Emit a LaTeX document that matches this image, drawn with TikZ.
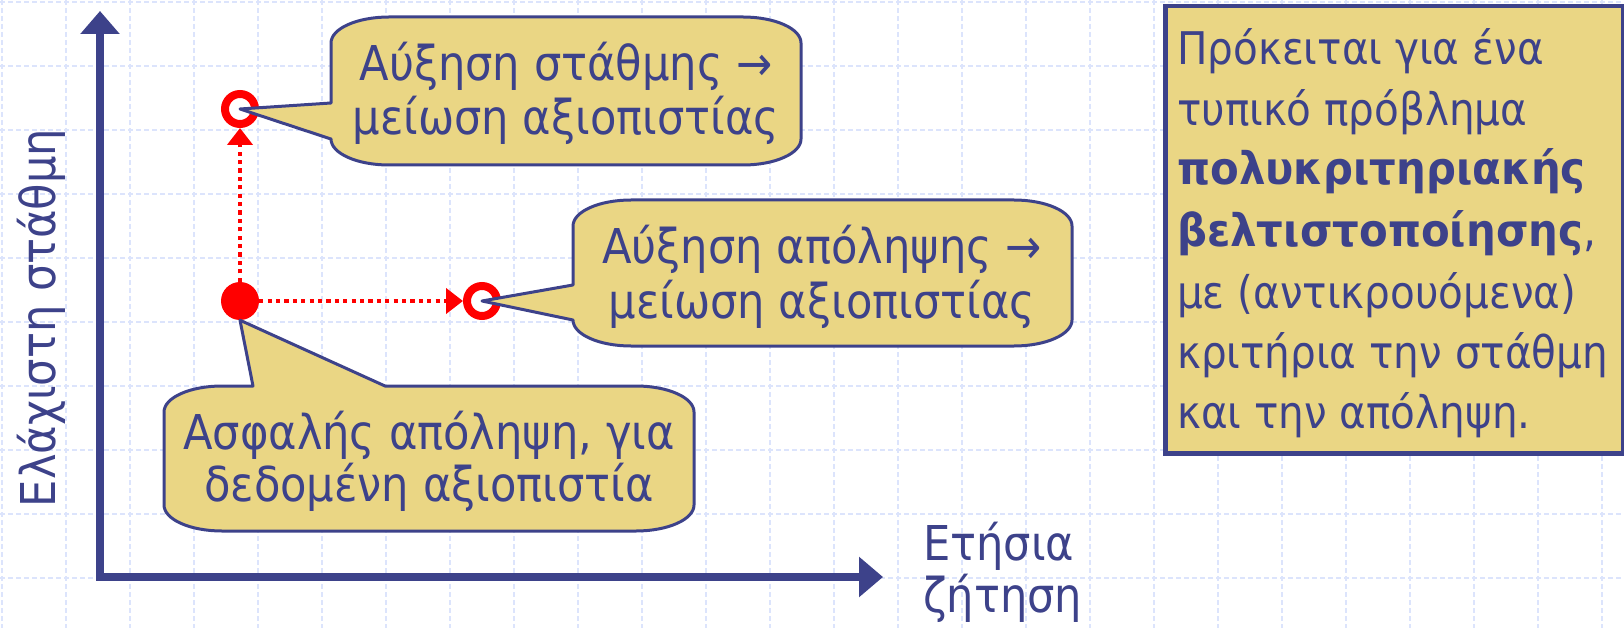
\documentclass[tikz,border=0pt]{standalone}
\usepackage{fontspec}
\setmainfont{DejaVu Sans}[FakeStretch=0.9, BoldFeatures={FakeStretch=0.93}]
\usetikzlibrary{arrows.meta}
\definecolor{ink}{RGB}{61,66,138}
\definecolor{note}{RGB}{234,214,132}
\definecolor{gridc}{RGB}{220,228,252}
\begin{document}
\begin{tikzpicture}[x=1pt,y=-1pt,
  txt/.style={text=ink, inner sep=0pt, font=\fontsize{48}{54}\selectfont},
  boxtxt/.style={text=ink, inner sep=0pt, font=\fontsize{45}{54}\selectfont},
  bubble/.style={draw=ink, fill=note, line width=3pt, line join=round},
  dotarrow/.style={red, line width=4.2pt, dash pattern=on 4.2pt off 4.2pt, -{Triangle[length=17pt,width=25pt]}},
  axisline/.style={ink, line width=8pt, line join=miter, {Triangle[length=23pt,width=38pt]}-{Triangle[length=24pt,width=39pt]}},
  gridline/.style={gridc, line width=1.3pt, dash pattern=on 5pt off 3pt},
  ring/.style={circle, draw=red, line width=8pt, minimum size=30pt, inner sep=0pt},
]
\useasboundingbox (0,0) rectangle (1624,628);
% grid
\foreach \i in {0,...,25} \draw[gridline] (2+64*\i,0) -- (2+64*\i,628);
\foreach \j in {0,...,9} \draw[gridline] (0,2+64*\j) -- (1624,2+64*\j);
% axes
\coordinate (ytop) at (100,11);
\coordinate (orig) at (100,577);
\coordinate (xend) at (883,577);
\draw[axisline] (ytop) -- (orig) -- (xend);
\node[txt, rotate=90, anchor=base] (ylab) at (55,318) {Ελάχιστη στάθμη};
\node[txt, anchor=base west] (xlab1) at (923,560) {Ετήσια};
\node[txt, anchor=base west] (xlab2) at (923,612) {ζήτηση};
% points
\node[circle, fill=red, minimum size=38pt, inner sep=0pt] (p0) at (240,301) {};
\node[ring] (p1) at (240,109) {};
\node[ring] (p2) at (482,301) {};
\draw[dotarrow] (p0) -- (p1);
\draw[dotarrow] (p0) -- (p2);
% top callout
\draw[bubble] (389,17) -- (743,17) .. controls (775,17) and (801,28.6) .. (801,43)
  -- (801,139) .. controls (801,153.4) and (775,165) .. (743,165)
  -- (389,165) .. controls (357,165) and (331,153.4) .. (331,139)
  -- (p1.center) -- (331,103) -- (331,43) .. controls (331,28.6) and (357,17) .. (389,17) -- cycle;
\node[txt, anchor=base] (t1a) at (566,81) {Αύξηση στάθμης →};
\node[txt, anchor=base] (t1b) at (566,135) {μείωση αξιοπιστίας};
% middle callout
\draw[bubble] (631,200) -- (1014,200) .. controls (1046,200) and (1072,211.6) .. (1072,226)
  -- (1072,320) .. controls (1072,334.4) and (1046,346) .. (1014,346)
  -- (631,346) .. controls (599,346) and (573,334.4) .. (573,320)
  -- (p2.center) -- (573,285) -- (573,226) .. controls (573,211.6) and (599,200) .. (631,200) -- cycle;
\node[txt, anchor=base] (t2a) at (822,264) {Αύξηση απόληψης →};
\node[txt, anchor=base] (t2b) at (822,318) {μείωση αξιοπιστίας};
% bottom callout
\draw[bubble] (222,386) -- (253,386) -- (p0.south) -- (385,386) -- (636,386)
  .. controls (668,386) and (694,397.6) .. (694,412)
  -- (694,505) .. controls (694,519.4) and (668,531) .. (636,531)
  -- (222,531) .. controls (190,531) and (164,519.4) .. (164,505)
  -- (164,412) .. controls (164,397.6) and (190,386) .. (222,386) -- cycle;
\node[txt, anchor=base] (t3a) at (429,449) {Ασφαλής απόληψη, για};
\node[txt, anchor=base] (t3b) at (429,501) {δεδομένη αξιοπιστία};
% right box
\node[draw=ink, fill=note, line width=4.5pt, minimum width=458pt, minimum height=447pt, inner sep=0pt, anchor=north west] (box) at (1163,4) {};
\node[boxtxt, anchor=base west] (r1) at (1177,65) {Πρόκειται για ένα};
\node[boxtxt, anchor=base west] (r2) at (1177,126) {τυπικό πρόβλημα};
\node[boxtxt, anchor=base west] (r3) at (1177,185) {\bfseries πολυκριτηριακής};
\node[boxtxt, anchor=base west] (r4) at (1177,247) {{\bfseries βελτιστοποίησης},};
\node[boxtxt, anchor=base west] (r5) at (1177,308) {με (αντικρουόμενα)};
\node[boxtxt, anchor=base west] (r6) at (1177,368) {κριτήρια την στάθμη};
\node[boxtxt, anchor=base west] (r7) at (1177,428) {και την απόληψη.};
\end{tikzpicture}
\end{document}
